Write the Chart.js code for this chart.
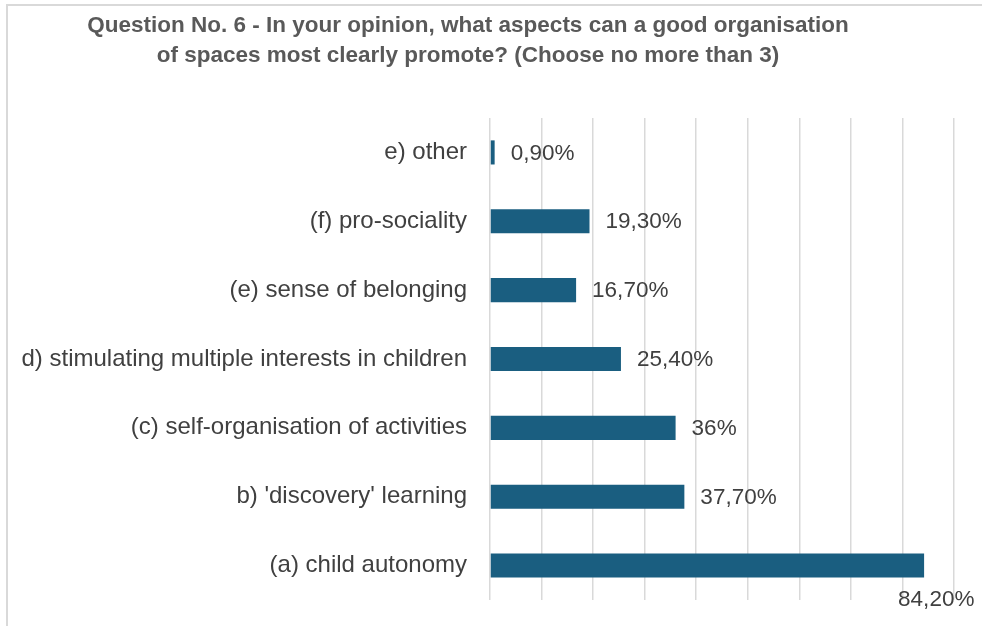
<!DOCTYPE html>
<html>
<head>
<meta charset="utf-8">
<script src="https://cdn.jsdelivr.net/npm/chart.js@4"></script>
<style>
  html, body { margin: 0; padding: 0; background: #fff; }
  #wrap { position: relative; width: 982px; height: 626px; }
  #frame { position: absolute; left: 6px; top: 4px; right: -4px; bottom: -4px;
           border-left: 2px solid #d9d9d9; border-top: 2px solid #d9d9d9; pointer-events: none; }
</style>
</head>
<body>
<div id="wrap">
  <canvas id="chart" width="982" height="626"></canvas>
  <div id="frame"></div>
</div>
<script>
const TITLE_LINES = [
  "Question No. 6 - In your opinion, what aspects can a good organisation",
  "of spaces most clearly promote? (Choose no more than 3)"
];
const CATEGORIES = [
  "e) other",
  "(f) pro-sociality",
  "(e) sense of belonging",
  "d) stimulating multiple interests in children",
  "(c) self-organisation of activities",
  "b) 'discovery' learning",
  "(a) child autonomy"
];
const VALUES = [0.9, 19.3, 16.7, 25.4, 36, 37.7, 84.2];
const VALUE_LABELS = ["0,90%", "19,30%", "16,70%", "25,40%", "36%", "37,70%", "84,20%"];

const TEXT_COLOR = "#404040";
const FONT = "Liberation Sans, Arial, sans-serif";

// title drawn by hand so it can sit off-centre like the original
const titlePlugin = {
  id: "titleText",
  afterDraw(chart) {
    const ctx = chart.ctx;
    ctx.save();
    ctx.fillStyle = "#595959";
    ctx.font = "bold 22.5px " + FONT;
    ctx.textAlign = "center";
    ctx.textBaseline = "middle";
    ctx.fillText(TITLE_LINES[0], 468, 26);
    ctx.fillText(TITLE_LINES[1], 468, 56);
    ctx.restore();
  }
};

const valueLabels = {
  id: "valueLabels",
  afterDatasetsDraw(chart) {
    const ctx = chart.ctx;
    const meta = chart.getDatasetMeta(0);
    ctx.save();
    ctx.fillStyle = TEXT_COLOR;
    ctx.font = "22.5px " + FONT;
    ctx.textBaseline = "middle";
    meta.data.forEach((bar, i) => {
      const txt = VALUE_LABELS[i];
      const w = ctx.measureText(txt).width;
      let x = bar.x + 16;
      let y = bar.y + 1;
      if (x + w > chart.chartArea.right) {
        // no room to the right: drop it under the bar end
        x = bar.x - 26;
        y = bar.y + 34;
      }
      ctx.textAlign = "left";
      ctx.fillText(txt, x, y);
    });
    ctx.restore();
  }
};

new Chart(document.getElementById("chart"), {
  type: "bar",
  data: {
    labels: CATEGORIES,
    datasets: [{
      data: VALUES,
      backgroundColor: "#1a5e80",
      borderWidth: 0,
      barPercentage: 0.35,
      categoryPercentage: 1
    }]
  },
  options: {
    indexAxis: "y",
    responsive: false,
    animation: false,
    layout: { padding: { top: 118, right: 28, bottom: 26, left: 0 } },
    plugins: {
      legend: { display: false },
      tooltip: { enabled: false }
    },
    scales: {
      x: {
        min: 0,
        max: 90,
        ticks: { display: false, stepSize: 10 },
        grid: { color: "#d9d9d9", lineWidth: 1.5, drawTicks: false },
        border: { display: false },
        afterFit(scale) { scale.height = 0; }
      },
      y: {
        ticks: { color: TEXT_COLOR, font: { family: FONT, size: 24 }, padding: 23 },
        grid: { display: false, drawTicks: false },
        border: { display: false },
        afterFit(scale) {
          scale.width = 490;
          scale.paddingTop = 0;
          scale.paddingBottom = 0;
        }
      }
    }
  },
  plugins: [titlePlugin, valueLabels]
});
</script>
</body>
</html>
